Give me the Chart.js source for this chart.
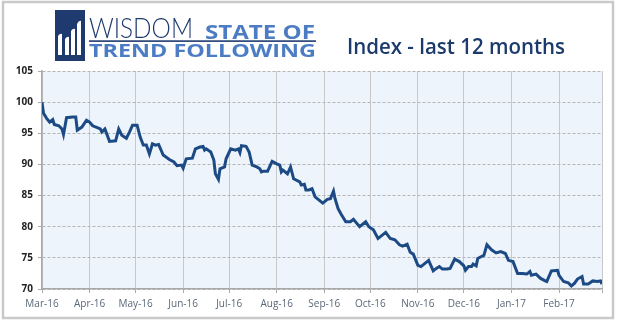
<!DOCTYPE html>
<html>
<head>
<meta charset="utf-8">
<script src="https://cdn.jsdelivr.net/npm/chart.js@4.4.1/dist/chart.umd.min.js"></script>
<style>
    html, body { margin: 0; padding: 0; background: #fff; }
    #wrap { position: relative; width: 617px; height: 324px; }
    #chart { position: absolute; left: 0; top: 0; }
    #overlay { position: absolute; left: 0; top: 0; pointer-events: none; }
</style>
</head>
<body>
<div id="wrap">
    <canvas id="chart" width="617" height="324"></canvas>
    <svg id="overlay" width="617" height="324" xmlns="http://www.w3.org/2000/svg">
        <rect x="3" y="2" width="610" height="316" fill="none" stroke="#c9c9c9" stroke-width="2.5"/>
        <!-- logo -->
        <rect x="55" y="10" width="30" height="51" fill="#1e3a6e"/>
        <path d="M58 36 Q60 33 62 34 L62 55 L58 55 Z" fill="#fff"/>
        <path d="M65 39 Q67 36 69 37 L69 55 L65 55 Z" fill="#fff"/>
        <path d="M71 31 Q73 28 75 29 L75 55 L71 55 Z" fill="#fff"/>
        <path d="M77 24 Q79 20 81 21 L81 55 L77 55 Z" fill="#fff"/>
        <text x="89" y="38" font-family="Lato, 'Open Sans', sans-serif" font-weight="300" font-size="27" fill="#1e3a6e" textLength="104" lengthAdjust="spacingAndGlyphs">WISDOM</text>
        <text x="205" y="39.3" font-family="'Open Sans', sans-serif" font-weight="700" font-size="19" fill="#4b7cc4" textLength="110" lengthAdjust="spacingAndGlyphs">STATE OF</text>
        <rect x="89" y="40.3" width="227" height="1.6" fill="#1e3a6e"/>
        <text x="89" y="57.3" font-family="'Open Sans', sans-serif" font-weight="700" font-size="17.5" fill="#4b7cc4" textLength="227" lengthAdjust="spacingAndGlyphs">TREND FOLLOWING</text>
        <!-- title -->
        <text x="347" y="54.3" font-family="'Open Sans', sans-serif" font-weight="600" font-size="21" fill="#1c3b6c" textLength="218" lengthAdjust="spacingAndGlyphs">Index - last 12 months</text>
    </svg>
</div>
<script>
// day offsets counted from 1 March 2016
const days = [
    0, 1, 3, 5, 7, 8, 11, 13, 14, 16,
    20, 22, 23, 26, 29, 31, 33, 36, 38, 39,
    41, 44, 48, 50, 52, 55, 57, 59, 62, 64,
    66, 68, 70, 72, 74, 76, 79, 83, 86, 88,
    91, 92, 94, 98, 100, 103, 105, 106, 107, 110,
    112, 113, 115, 116, 119, 120, 123, 126, 128, 129,
    130, 133, 135, 137, 140, 142, 143, 144, 147, 150,
    153, 155, 156, 157, 160, 162, 164, 168, 169, 171,
    172, 174, 176, 178, 181, 183, 186, 188, 190, 191,
    193, 195, 198, 201, 203, 207, 211, 213, 216, 219,
    224, 227, 230, 233, 235, 238, 240, 242, 245, 247,
    250, 252, 255, 257, 259, 261, 264, 266, 269, 272,
    275, 276, 278, 280, 281, 283, 284, 287, 288, 290,
    293, 296, 299, 302, 304, 307, 310, 313, 316, 318,
    319, 322, 325, 328, 329, 332, 336, 337, 340, 343,
    345, 347, 349, 352, 353, 356, 359, 362, 364, 365
];
const indexValues = [
    100.0, 98.2, 97.4, 96.8, 97.2, 96.4, 96.2, 95.7, 94.8, 97.5,
    97.6, 97.6, 95.5, 96.0, 97.1, 96.8, 96.2, 95.9, 95.7, 95.2,
    95.7, 93.7, 93.8, 95.7, 94.7, 94.2, 95.2, 96.3, 96.3, 94.4,
    93.1, 93.1, 91.7, 93.3, 93.1, 93.2, 91.5, 90.8, 90.4, 89.8,
    89.9, 89.4, 90.9, 91.0, 92.5, 92.8, 92.9, 92.3, 92.5, 92.0,
    90.7, 88.5, 87.6, 89.3, 89.6, 90.9, 92.5, 92.3, 92.5, 91.9,
    93.0, 92.9, 92.0, 89.9, 89.6, 89.3, 88.8, 88.9, 88.9, 90.5,
    90.1, 89.9, 88.8, 89.1, 88.5, 89.6, 87.7, 87.2, 86.7, 86.8,
    85.9, 85.9, 86.1, 84.8, 84.2, 83.8, 84.4, 84.5, 85.7, 84.5,
    82.9, 82.0, 80.8, 80.8, 81.2, 80.0, 80.8, 80.0, 79.5, 78.1,
    79.1, 78.1, 77.9, 77.1, 76.9, 77.2, 75.9, 75.6, 73.8, 73.6,
    74.2, 74.6, 72.9, 73.3, 73.6, 73.2, 73.2, 73.3, 74.8, 74.4,
    73.7, 73.0, 73.6, 73.6, 74.0, 73.7, 74.9, 75.3, 75.4, 77.1,
    76.3, 75.8, 76.0, 75.7, 74.6, 74.4, 72.5, 72.5, 72.4, 72.8,
    72.2, 72.4, 71.7, 71.3, 71.2, 72.9, 73.0, 72.2, 71.2, 71.0,
    70.5, 70.9, 71.6, 72.0, 70.8, 70.8, 71.3, 71.2, 71.3, 70.8
];
const monthDays = [0, 31, 61, 92, 122, 153, 184, 214, 245, 275, 306, 337, 365];
const monthLabels = ['Mar-16', 'Apr-16', 'May-16', 'Jun-16', 'Jul-16', 'Aug-16', 'Sep-16',
    'Oct-16', 'Nov-16', 'Dec-16', 'Jan-17', 'Feb-17', ''];
const yTicks = [70, 75, 80, 85, 90, 95, 100, 105];

const plotBg = {
    id: 'plotBg',
    beforeDraw(chart) {
        const { ctx, chartArea: a } = chart;
        ctx.save();
        ctx.fillStyle = '#eef4fc';
        ctx.fillRect(a.left, a.top, a.right - a.left, a.bottom - a.top);
        ctx.restore();
    }
};

new Chart(document.getElementById('chart'), {
    type: 'line',
    data: {
        datasets: [{
            data: days.map((d, i) => ({ x: d, y: indexValues[i] })),
            borderColor: '#1c4a84',
            borderWidth: 3,
            pointRadius: 0,
            tension: 0,
            fill: false
        }]
    },
    options: {
        responsive: false,
        animation: false,
        devicePixelRatio: 1,
        layout: { padding: { top: 71, right: 15, bottom: 0, left: 0 } },
        plugins: { legend: { display: false }, tooltip: { enabled: false } },
        scales: {
            x: {
                type: 'linear',
                min: 0,
                max: 365,
                afterBuildTicks: s => { s.ticks = monthDays.map(v => ({ value: v })); },
                afterFit: s => { s.height = 35; },
                ticks: {
                    autoSkip: false,
                    maxRotation: 0,
                    padding: 5,
                    color: '#5b6878',
                    font: { family: "'Open Sans', sans-serif", size: 10 },
                    callback: (v, i) => monthLabels[i]
                },
                grid: { color: '#c8c8c8', lineWidth: 1, tickLength: 4, tickColor: '#aaaaaa' },
                border: { color: '#a8a8a8', width: 1.5 }
            },
            y: {
                min: 70,
                max: 105,
                afterBuildTicks: s => { s.ticks = yTicks.map(v => ({ value: v })); },
                afterFit: s => { s.width = 42; },
                ticks: {
                    padding: 5,
                    color: '#222222',
                    font: { family: "'Open Sans', sans-serif", size: 10, weight: 'bold' }
                },
                grid: { color: '#b4b4b4', lineWidth: 1, tickLength: 4, tickColor: '#aaaaaa', tickBorderDash: [] },
                border: { color: '#a8a8a8', width: 1.5, dash: [3, 2] }
            }
        }
    },
    plugins: [plotBg]
});
</script>
</body>
</html>
